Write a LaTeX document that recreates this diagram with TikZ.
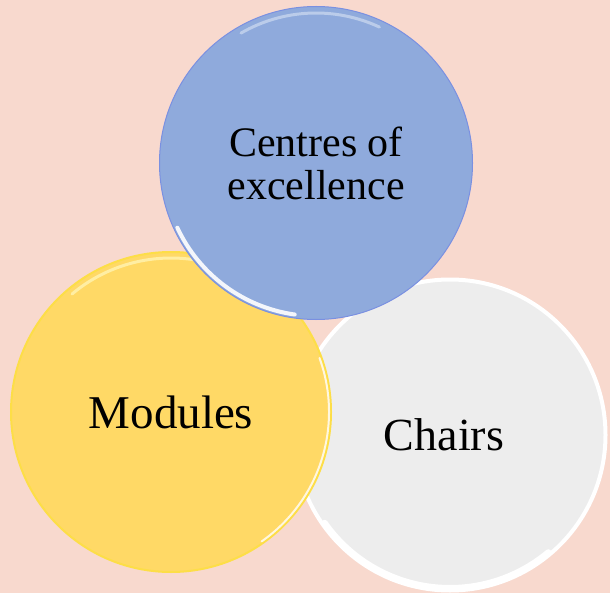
\documentclass[tikz,border=0pt]{standalone}
\usepackage{fontspec}
\setmainfont{Liberation Serif}
\definecolor{bgpink}{HTML}{F8D9CE}
\definecolor{excblue}{HTML}{8FAADC}
\definecolor{modyellow}{HTML}{FFD966}
\definecolor{chairgrey}{HTML}{EDEDED}
\tikzset{
  bubble/.style={circle, inner sep=0pt, align=center, text=black},
  shine/.style={line width=3pt, line cap=round, opacity=0.6},
}
\begin{document}
\begin{tikzpicture}[x=1pt,y=1pt]
    \fill [bgpink] (0,0) rectangle (610,593);
    % three overlapping circles, back to front
    \node [bubble, fill=chairgrey, draw=white, line width=4pt, minimum size=311pt,
           font=\fontsize{46}{48}\selectfont] (chairs) at (450,158) {\hspace*{-12pt}Chairs};
    \draw [shine, white, line width=6pt, opacity=1] ([shift={(215:153pt)}]chairs.center) arc [start angle=215, end angle=310, radius=153pt];
    \node [bubble, fill=modyellow, draw=yellow!30!modyellow, line width=2pt, minimum size=320pt,
           font=\fontsize{47}{49}\selectfont] (mods) at (171,181) {Modules};
    \draw [shine, yellow!20] ([shift={(130:154pt)}]mods.center) arc [start angle=130, end angle=70, radius=154pt];
    \draw [shine, white, line width=2pt, opacity=0.8] ([shift={(20:158pt)}]mods.center) arc [start angle=20, end angle=-55, radius=158pt];
    \node [bubble, fill=excblue, draw=excblue!85!blue, line width=1pt, minimum size=313pt,
           font=\fontsize{42}{43}\selectfont] (cexc) at (316,430) {Centres of\\excellence};
    \draw [shine, white, opacity=0.4] ([shift={(120:150pt)}]cexc.center) arc [start angle=120, end angle=65, radius=150pt];
    \draw [shine, white, line width=4pt, opacity=0.9] ([shift={(205:153pt)}]cexc.center) arc [start angle=205, end angle=262, radius=153pt];
\end{tikzpicture}
\end{document}
